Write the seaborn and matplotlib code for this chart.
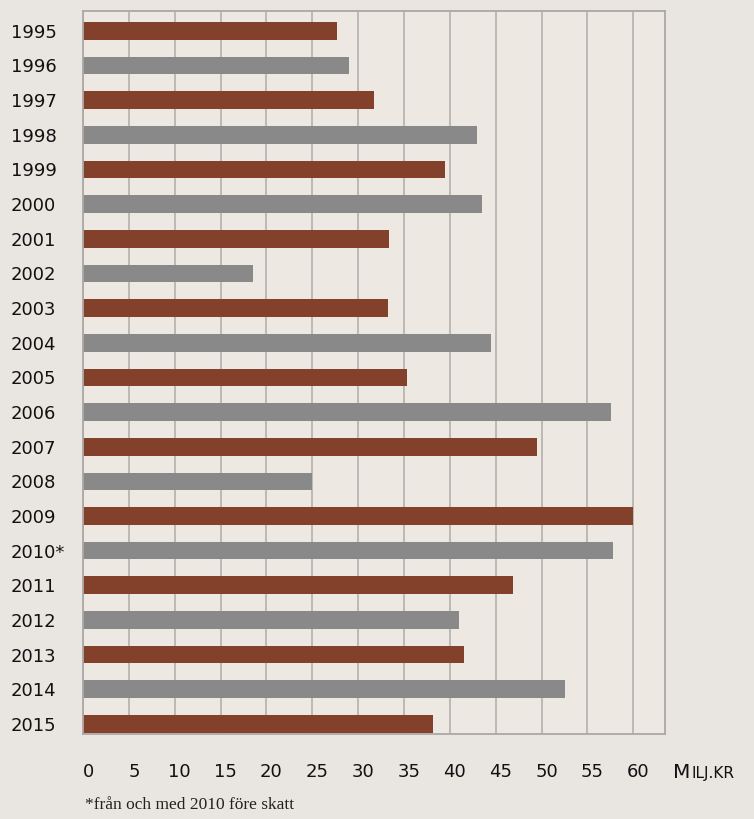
import matplotlib
matplotlib.use('Agg')
import matplotlib.pyplot as plt
import matplotlib.transforms as mtransforms
import seaborn as sns

years = ['1995', '1996', '1997', '1998', '1999', '2000', '2001', '2002', '2003', '2004',
         '2005', '2006', '2007', '2008', '2009', '2010*', '2011', '2012', '2013', '2014', '2015']
values = [27.7, 29.0, 31.7, 42.9, 39.5, 43.5, 33.4, 18.5, 33.2, 44.5,
          35.3, 57.6, 49.5, 25.0, 60.0, 57.8, 46.9, 41.0, 41.5, 52.6, 38.2]
xticks = [0, 5, 10, 15, 20, 25, 30, 35, 40, 45, 50, 55, 60]
unit_label = ['M', 'ILJ.KR']
footnote = '*från och med 2010 före skatt'

brown = '#83402B'
grey = '#898989'
colors = [brown if i % 2 == 0 else grey for i in range(len(years))]

sns.set_theme(style='white')
plt.rcParams['font.family'] = ['DejaVu Sans']

fig = plt.figure(figsize=(7.54, 8.19), dpi=100, facecolor='#E9E5E1')
ax = fig.add_axes([83 / 754, 1 - 734 / 819, (665 - 83) / 754, (734 - 11) / 819])
ax.set_facecolor('#EEE8E2')

sns.barplot(x=values, y=years, hue=years, palette=colors, legend=False,
            orient='h', width=0.51, saturation=1, linewidth=0, ax=ax)

ax.set_xlim(0, 63.45)
ax.set_ylim(20.29, -0.571)
ax.set_xticks(xticks)
ax.set_xticklabels([str(t) for t in xticks])
ax.set_xlabel('')
ax.set_ylabel('')
ax.xaxis.grid(True, color='#B4B1AE', linewidth=1.2)
ax.yaxis.grid(False)
ax.set_axisbelow(True)
for s in ax.spines.values():
    s.set_visible(True)
    s.set_color('#ABA8A5')
    s.set_linewidth(1.3)

ax.tick_params(axis='x', length=0, pad=21, labelsize=13, labelcolor='#111111')
ax.tick_params(axis='y', length=0, pad=52, labelsize=13, labelcolor='#111111')
for lab in ax.get_yticklabels():
    lab.set_horizontalalignment('left')
offset = mtransforms.ScaledTranslation(0.05, 0, fig.dpi_scale_trans)
for lab in ax.get_xticklabels():
    lab.set_transform(lab.get_transform() + offset)

# small caps unit label: big first letter, smaller rest on the same baseline
base_y = 1 - 778 / 819
t1 = fig.text(673 / 754, base_y, unit_label[0], fontsize=14.5, color='#111111',
              ha='left', va='baseline')
fig.canvas.draw()
bb = t1.get_window_extent(renderer=fig.canvas.get_renderer())
fig.text(bb.x1 / fig.bbox.width + 0.001, base_y, unit_label[1], fontsize=11, color='#111111',
         ha='left', va='baseline')

fig.text(85 / 754, 1 - 809 / 819, footnote, fontsize=12.5, family='Liberation Serif',
         color='#222222', ha='left', va='baseline')

fig.savefig('out.png', dpi=100, facecolor=fig.get_facecolor())
